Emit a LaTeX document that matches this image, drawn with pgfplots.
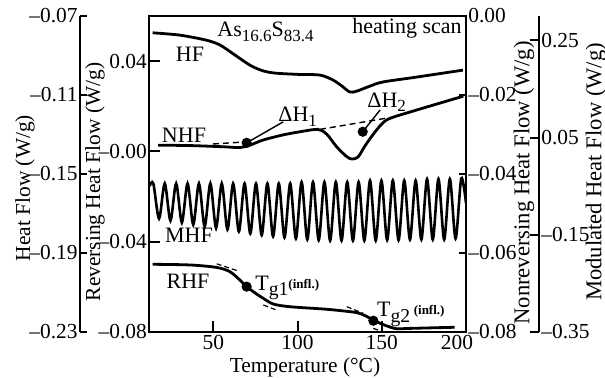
\documentclass[border=0pt]{standalone}
\usepackage{fontspec}
\setmainfont{Liberation Serif}
\usepackage{pgfplots}
\pgfplotsset{compat=1.18}

\newcommand{\lbl}{\fontsize{10.7}{12}\selectfont}
\newcommand{\lblr}{\fontsize{11.3}{12}\selectfont}
\newcommand{\txt}{\fontsize{11}{12}\selectfont}
\newcommand{\sub}[1]{\raisebox{-0.45ex}{\fontsize{8.5}{9}\selectfont #1}}
\newcommand{\gsub}[1]{\raisebox{-2.7pt}{\fontsize{9.8}{10}\selectfont #1}}
\newcommand{\infl}{\raisebox{1pt}{\fontsize{6.5}{7}\selectfont\bfseries (infl.)}}

\pgfplotsset{
 every axis/.append style={scaled ticks=false},
 base/.style={scale only axis, width=158.35pt, height=158pt, at={(0pt,0pt)},
   anchor=south west, xmin=12, xmax=200,
   tick label style={font=\lbl},
   axis line style={line width=1.2pt},
   major tick style={line width=1pt, black},
   every axis plot/.append style={line width=1.4pt, black}},
 ruler/.style={scale only axis, width=20pt, height=158pt, anchor=south west,
   xmin=0, xmax=1, hide x axis,
   tick label style={font=\lbl},
   axis line style={line width=1.2pt},
   major tick style={line width=1pt, black}}
}

\begin{document}
\begin{tikzpicture}
\useasboundingbox (-74.65pt,-22.5pt) rectangle (227.85pt,166pt);

% ---------- main axis: Reversing heat flow ----------
\begin{axis}[base, ymin=-0.08, ymax=0.06, tick align=inside,
  xtick={50,100,150,200}, xticklabels={50,100,150,\hspace*{-9pt}200},
  ytick={-0.08,-0.04,0,0.04}, yticklabels={–0.08,–0.04,–0.00,0.04},
  xtick pos=bottom, ytick pos=left, major tick length=5.5pt,
  yticklabel style={inner sep=1pt}, xticklabel style={inner sep=1.5pt}]
\addplot[smooth] coordinates {
 (14.0,-0.0500) (36.2,-0.0503) (52.0,-0.0514) (59.9,-0.0533) (65.8,-0.0570)
 (69.8,-0.0599) (74.8,-0.0627) (79.7,-0.0651) (85.6,-0.0676) (95.5,-0.0688)
 (115.1,-0.0698) (125.2,-0.0705) (135.1,-0.0714) (140.0,-0.0727) (145.0,-0.0747)
 (150.1,-0.0765) (154.9,-0.0778) (159.1,-0.0786) (166.6,-0.0784) (193.3,-0.0779)};
% tangent dashes
\addplot[line width=0.6pt, dash pattern=on 2.5pt off 1.5pt] coordinates {(52,-0.0498) (65,-0.0530)};
\addplot[line width=0.6pt, dash pattern=on 2.5pt off 1.5pt] coordinates {(79.7,-0.0680) (87.6,-0.0703)};
\addplot[line width=0.6pt, dash pattern=on 2.5pt off 1.5pt] coordinates {(129.2,-0.0688) (139.0,-0.0717)};
\addplot[line width=0.6pt, dash pattern=on 2.5pt off 1.5pt] coordinates {(145.0,-0.0784) (150.9,-0.0799)};
\addplot[only marks, mark=*, mark size=1.8pt] coordinates {(69.8,-0.0599) (145.0,-0.0750)};
\end{axis}

% ---------- Nonreversing heat flow ----------
\begin{axis}[base, ymin=-0.08, ymax=0, hide x axis, axis y line*=right,
  tick align=inside, major tick length=3.5pt,
  ytick={-0.08,-0.06,-0.04,-0.02,0}, yticklabels={–0.08,–0.06,–0.04,–0.02,0.00},
  yticklabel style={inner sep=1pt}]
\addplot[smooth] coordinates {
 (17.3,-0.0327) (36.2,-0.0328) (55.7,-0.0331) (65.8,-0.0333) (71.8,-0.0327)
 (79.5,-0.0314) (91.4,-0.0301) (101.5,-0.0293) (112.1,-0.0287) (117.3,-0.0299)
 (123.2,-0.0331) (129.2,-0.0356) (132.3,-0.0362) (135.9,-0.0357) (140.0,-0.0329)
 (145.0,-0.0299) (150.1,-0.0273) (154.9,-0.0259) (170.7,-0.0238) (198.4,-0.0203)};
\addplot[line width=0.7pt, dash pattern=on 3pt off 2pt] coordinates {(49.8,-0.0324) (71.8,-0.0318)};
\addplot[line width=0.7pt, dash pattern=on 3pt off 2pt] coordinates {(113.3,-0.0287) (154.9,-0.0257)};
\addplot[line width=0.7pt] coordinates {(69.8,-0.0321) (91.5,-0.0268)};
\addplot[line width=0.7pt] coordinates {(138.7,-0.0293) (149.0,-0.0238)};
\addplot[only marks, mark=*, mark size=1.8pt] coordinates {(69.8,-0.0321) (138.7,-0.0293)};
\end{axis}

% ---------- Heat flow (data) ----------
\begin{axis}[base, hide axis, ymin=-0.23, ymax=-0.07]
\addplot[smooth] coordinates {
 (14.0,-0.0785) (30.2,-0.0797) (45.7,-0.0822) (54.0,-0.0847) (62.9,-0.0898)
 (71.8,-0.0949) (78.9,-0.0976) (86.6,-0.0989) (101.5,-0.0996) (113.3,-0.0999)
 (121.0,-0.1024) (126.4,-0.1055) (131.1,-0.1085) (135.3,-0.1080) (143.0,-0.1055)
 (150.7,-0.1034) (170.9,-0.1009) (198.2,-0.0974)};
\end{axis}

% ---------- Modulated heat flow (data) ----------
\begin{axis}[base, hide axis, ymin=-0.35, ymax=0.30]
\addplot[smooth, line width=1.3pt] coordinates {
 (12.2,-0.050)
 (14.40,-0.0446) (17.79,-0.1166)
 (21.17,-0.0446) (24.56,-0.1207)
 (27.94,-0.0446) (31.33,-0.1248)
 (34.71,-0.0446) (38.10,-0.1290)
 (41.48,-0.0446) (44.87,-0.1331)
 (48.25,-0.0446) (51.64,-0.1362)
 (55.02,-0.0446) (58.41,-0.1392)
 (61.79,-0.0446) (65.18,-0.1434)
 (68.56,-0.0446) (71.95,-0.1475)
 (75.33,-0.0446) (78.72,-0.1506)
 (82.10,-0.0446) (85.49,-0.1536)
 (88.87,-0.0446) (92.26,-0.1557)
 (95.64,-0.0446) (99.03,-0.1578)
 (102.41,-0.0415) (105.80,-0.1598)
 (109.18,-0.0415) (112.57,-0.1610)
 (115.95,-0.0415) (119.34,-0.1619)
 (122.72,-0.0415) (126.11,-0.1619)
 (129.49,-0.0415) (132.88,-0.1619)
 (136.26,-0.0415) (139.65,-0.1619)
 (143.03,-0.0384) (146.42,-0.1619)
 (149.80,-0.0384) (153.19,-0.1610)
 (156.57,-0.0384) (159.96,-0.1610)
 (163.34,-0.0384) (166.73,-0.1598)
 (170.11,-0.0384) (173.50,-0.1598)
 (176.88,-0.0353) (180.27,-0.1598)
 (183.65,-0.0353) (187.04,-0.1598)
 (190.42,-0.0353) (193.81,-0.1578)
 (197.19,-0.0340) (200.0,-0.0846)};
\end{axis}

% ---------- outer left ruler: Heat Flow ----------
\begin{axis}[ruler, at={(-34.65pt,0pt)}, ymin=-0.23, ymax=-0.07,
  axis y line*=left, tick align=inside, major tick length=3.5pt,
  ytick={-0.23,-0.19,-0.15,-0.11,-0.07},
  yticklabels={–0.23,–0.19,–0.15,–0.11,–0.07},
  yticklabel style={inner sep=1pt}]
\addplot[draw=none] coordinates {(0.5,-0.1)};
\end{axis}

% ---------- outer right ruler: Modulated Heat Flow ----------
\begin{axis}[ruler, at={(174.85pt,0pt)}, ymin=-0.35, ymax=0.30,
  axis y line*=right, tick align=inside, major tick length=4.5pt,
  ytick={-0.35,-0.15,0.05,0.25},
  yticklabels={–0.35,–0.15,0.05,0.25},
  yticklabel style={inner sep=1pt}]
\addplot[draw=none] coordinates {(0.5,0)};
\end{axis}

% ---------- labels ----------
\node[font=\lbl, rotate=90] at (-62.15pt,72pt) {Heat Flow (W/g)};
\node[font=\lbl, rotate=90] at (-27.15pt,75pt) {Reversing Heat Flow (W/g)};
\node[font=\lblr, rotate=90] at (187.35pt,74.5pt) {Nonreversing Heat Flow (W/g)};
\node[font=\lblr, rotate=90] at (223.35pt,80pt) {Modulated Heat Flow (W/g)};
\node[font=\lbl] at (77.85pt,-17.5pt) {Temperature (°C)};

\node[font=\txt] at (20.35pt,138.75pt) {HF};
\node[font=\txt] at (17.35pt,98.5pt) {NHF};
\node[font=\txt] at (19.85pt,48.25pt) {MHF};
\node[font=\txt] at (19.35pt,25.5pt) {RHF};
\node[font=\txt, anchor=base west, inner sep=0pt] at (33.85pt,147.65pt) {As\sub{16.6}S\sub{83.4}};
\node[font=\txt, anchor=base east, inner sep=0pt] at (156.35pt,149.2pt) {heating scan};
\node[font=\txt, anchor=base west, inner sep=0pt] at (64.35pt,105.15pt) {ΔH\sub{1}};
\node[font=\txt, anchor=base west, inner sep=0pt] at (108.85pt,112.35pt) {ΔH\sub{2}};
\node[font=\txt, anchor=base west, inner sep=0pt] at (52.85pt,21pt) {T\gsub{g1}\infl};
\node[font=\txt, anchor=base west, inner sep=0pt] at (113.7pt,7.65pt) {T\gsub{g2}\,\infl};
\end{tikzpicture}
\end{document}
